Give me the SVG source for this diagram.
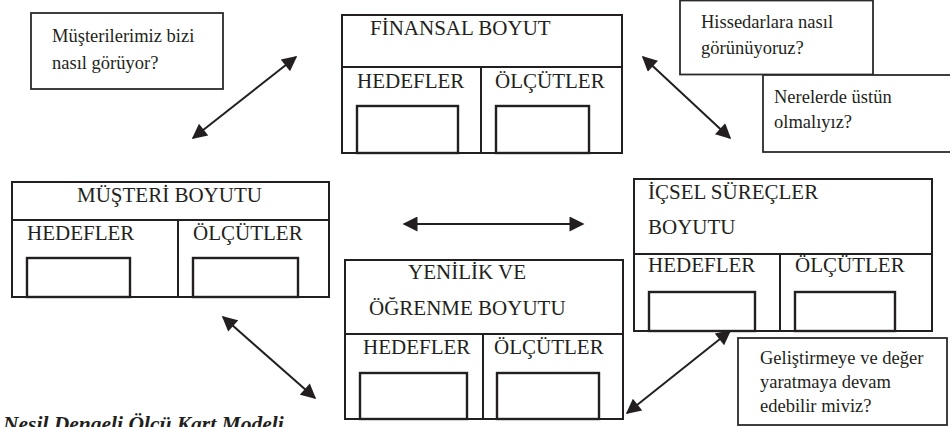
<svg xmlns="http://www.w3.org/2000/svg" width="950" height="427" viewBox="0 0 950 427">
  <style>
    .frame { fill: #fff; stroke: #231f20; stroke-width: 2; }
    .slot { fill: #fff; stroke: #231f20; stroke-width: 2.4; }
    .rule { stroke: #231f20; stroke-width: 2; fill: none; }
    .note { fill: #fff; stroke: #2b2b2b; stroke-width: 1.8; }
    text { font-family: 'Liberation Serif', 'Times New Roman', serif; fill: #231f20; }
    .big { font-size: 21px; }
    .q { font-size: 18.5px; }
    .cap { font-size: 21.5px; font-weight: bold; font-style: italic; }
    .link { stroke: #231f20; stroke-width: 2; fill: none; marker-start: url(#head); marker-end: url(#head); }
  </style>
  <defs>
    <marker id="head" viewBox="0 0 10 10" refX="9" refY="5" markerUnits="userSpaceOnUse" markerWidth="17" markerHeight="15" orient="auto-start-reverse">
      <path d="M0,0 L10,5 L0,10 z" fill="#231f20"/>
    </marker>
  </defs>

  <rect width="950" height="427" fill="#fff"/>

  <!-- question callouts -->
  <g id="q-customer">
    <rect class="note" x="31" y="13" width="192" height="76"/>
    <text class="q" x="52" y="42">Müşterilerimiz bizi</text>
    <text class="q" x="52" y="69">nasıl görüyor?</text>
  </g>
  <g id="q-shareholders">
    <rect class="note" x="680" y="0.5" width="193" height="74"/>
    <text class="q" x="701" y="28">Hissedarlara nasıl</text>
    <text class="q" x="701" y="54">görünüyoruz?</text>
  </g>
  <g id="q-excel">
    <rect class="note" x="763" y="75" width="190" height="77"/>
    <text class="q" x="774" y="103">Nerelerde üstün</text>
    <text class="q" x="774" y="128">olmalıyız?</text>
  </g>
  <g id="q-growth">
    <rect class="note" x="738" y="338" width="209" height="87"/>
    <text class="q" x="760" y="364">Geliştirmeye ve değer</text>
    <text class="q" x="760" y="388">yaratmaya devam</text>
    <text class="q" x="760" y="412">edebilir miviz?</text>
  </g>

  <!-- perspective: financial -->
  <g id="financial">
    <rect class="frame" x="342" y="15" width="280" height="138"/>
    <line class="rule" x1="342" y1="67" x2="622" y2="67"/>
    <line class="rule" x1="481" y1="67" x2="481" y2="153"/>
    <text class="big" x="370" y="35">FİNANSAL BOYUT</text>
    <text class="big" x="357" y="88">HEDEFLER</text>
    <text class="big" x="495" y="88">ÖLÇÜTLER</text>
    <rect class="slot" x="357" y="106" width="101" height="47"/>
    <rect class="slot" x="496" y="106" width="93" height="47"/>
  </g>

  <!-- perspective: customer -->
  <g id="customer">
    <rect class="frame" x="12" y="182" width="317" height="115"/>
    <line class="rule" x1="12" y1="220" x2="329" y2="220"/>
    <line class="rule" x1="178" y1="220" x2="178" y2="297"/>
    <text class="big" x="77" y="202">MÜŞTERİ BOYUTU</text>
    <text class="big" x="27" y="240">HEDEFLER</text>
    <text class="big" x="193" y="240">ÖLÇÜTLER</text>
    <rect class="slot" x="27" y="258" width="103" height="39"/>
    <rect class="slot" x="193" y="258" width="105" height="39"/>
  </g>

  <!-- perspective: internal processes -->
  <g id="internal">
    <rect class="frame" x="634" y="179" width="298" height="152"/>
    <line class="rule" x1="634" y1="254" x2="932" y2="254"/>
    <line class="rule" x1="780" y1="254" x2="780" y2="331"/>
    <text class="big" x="648" y="199">İÇSEL SÜREÇLER</text>
    <text class="big" x="648" y="234">BOYUTU</text>
    <text class="big" x="648" y="272">HEDEFLER</text>
    <text class="big" x="795" y="272">ÖLÇÜTLER</text>
    <rect class="slot" x="649" y="292" width="106" height="39"/>
    <rect class="slot" x="795" y="292" width="100" height="39"/>
  </g>

  <!-- perspective: innovation and learning -->
  <g id="learning">
    <rect class="frame" x="345" y="260" width="278" height="159"/>
    <line class="rule" x1="345" y1="334" x2="623" y2="334"/>
    <line class="rule" x1="483" y1="334" x2="483" y2="419"/>
    <text class="big" x="408" y="279">YENİLİK VE</text>
    <text class="big" x="369" y="315">ÖĞRENME BOYUTU</text>
    <text class="big" x="363" y="354">HEDEFLER</text>
    <text class="big" x="494" y="354">ÖLÇÜTLER</text>
    <rect class="slot" x="360" y="373" width="107" height="46"/>
    <rect class="slot" x="497" y="373" width="102" height="46"/>
  </g>

  <!-- two-way links between perspectives -->
  <g id="connectors">
    <line class="link" x1="193" y1="138" x2="296" y2="57"/>
    <line class="link" x1="643" y1="57" x2="730" y2="138"/>
    <line class="link" x1="404" y1="224" x2="583" y2="224"/>
    <line class="link" x1="223" y1="317" x2="315" y2="398"/>
    <line class="link" x1="730" y1="331" x2="627" y2="413"/>
  </g>

  <!-- caption, running past the lower edge -->
  <text class="cap" x="3" y="431">Nesil Dengeli Ölçü Kart Modeli</text>
</svg>
